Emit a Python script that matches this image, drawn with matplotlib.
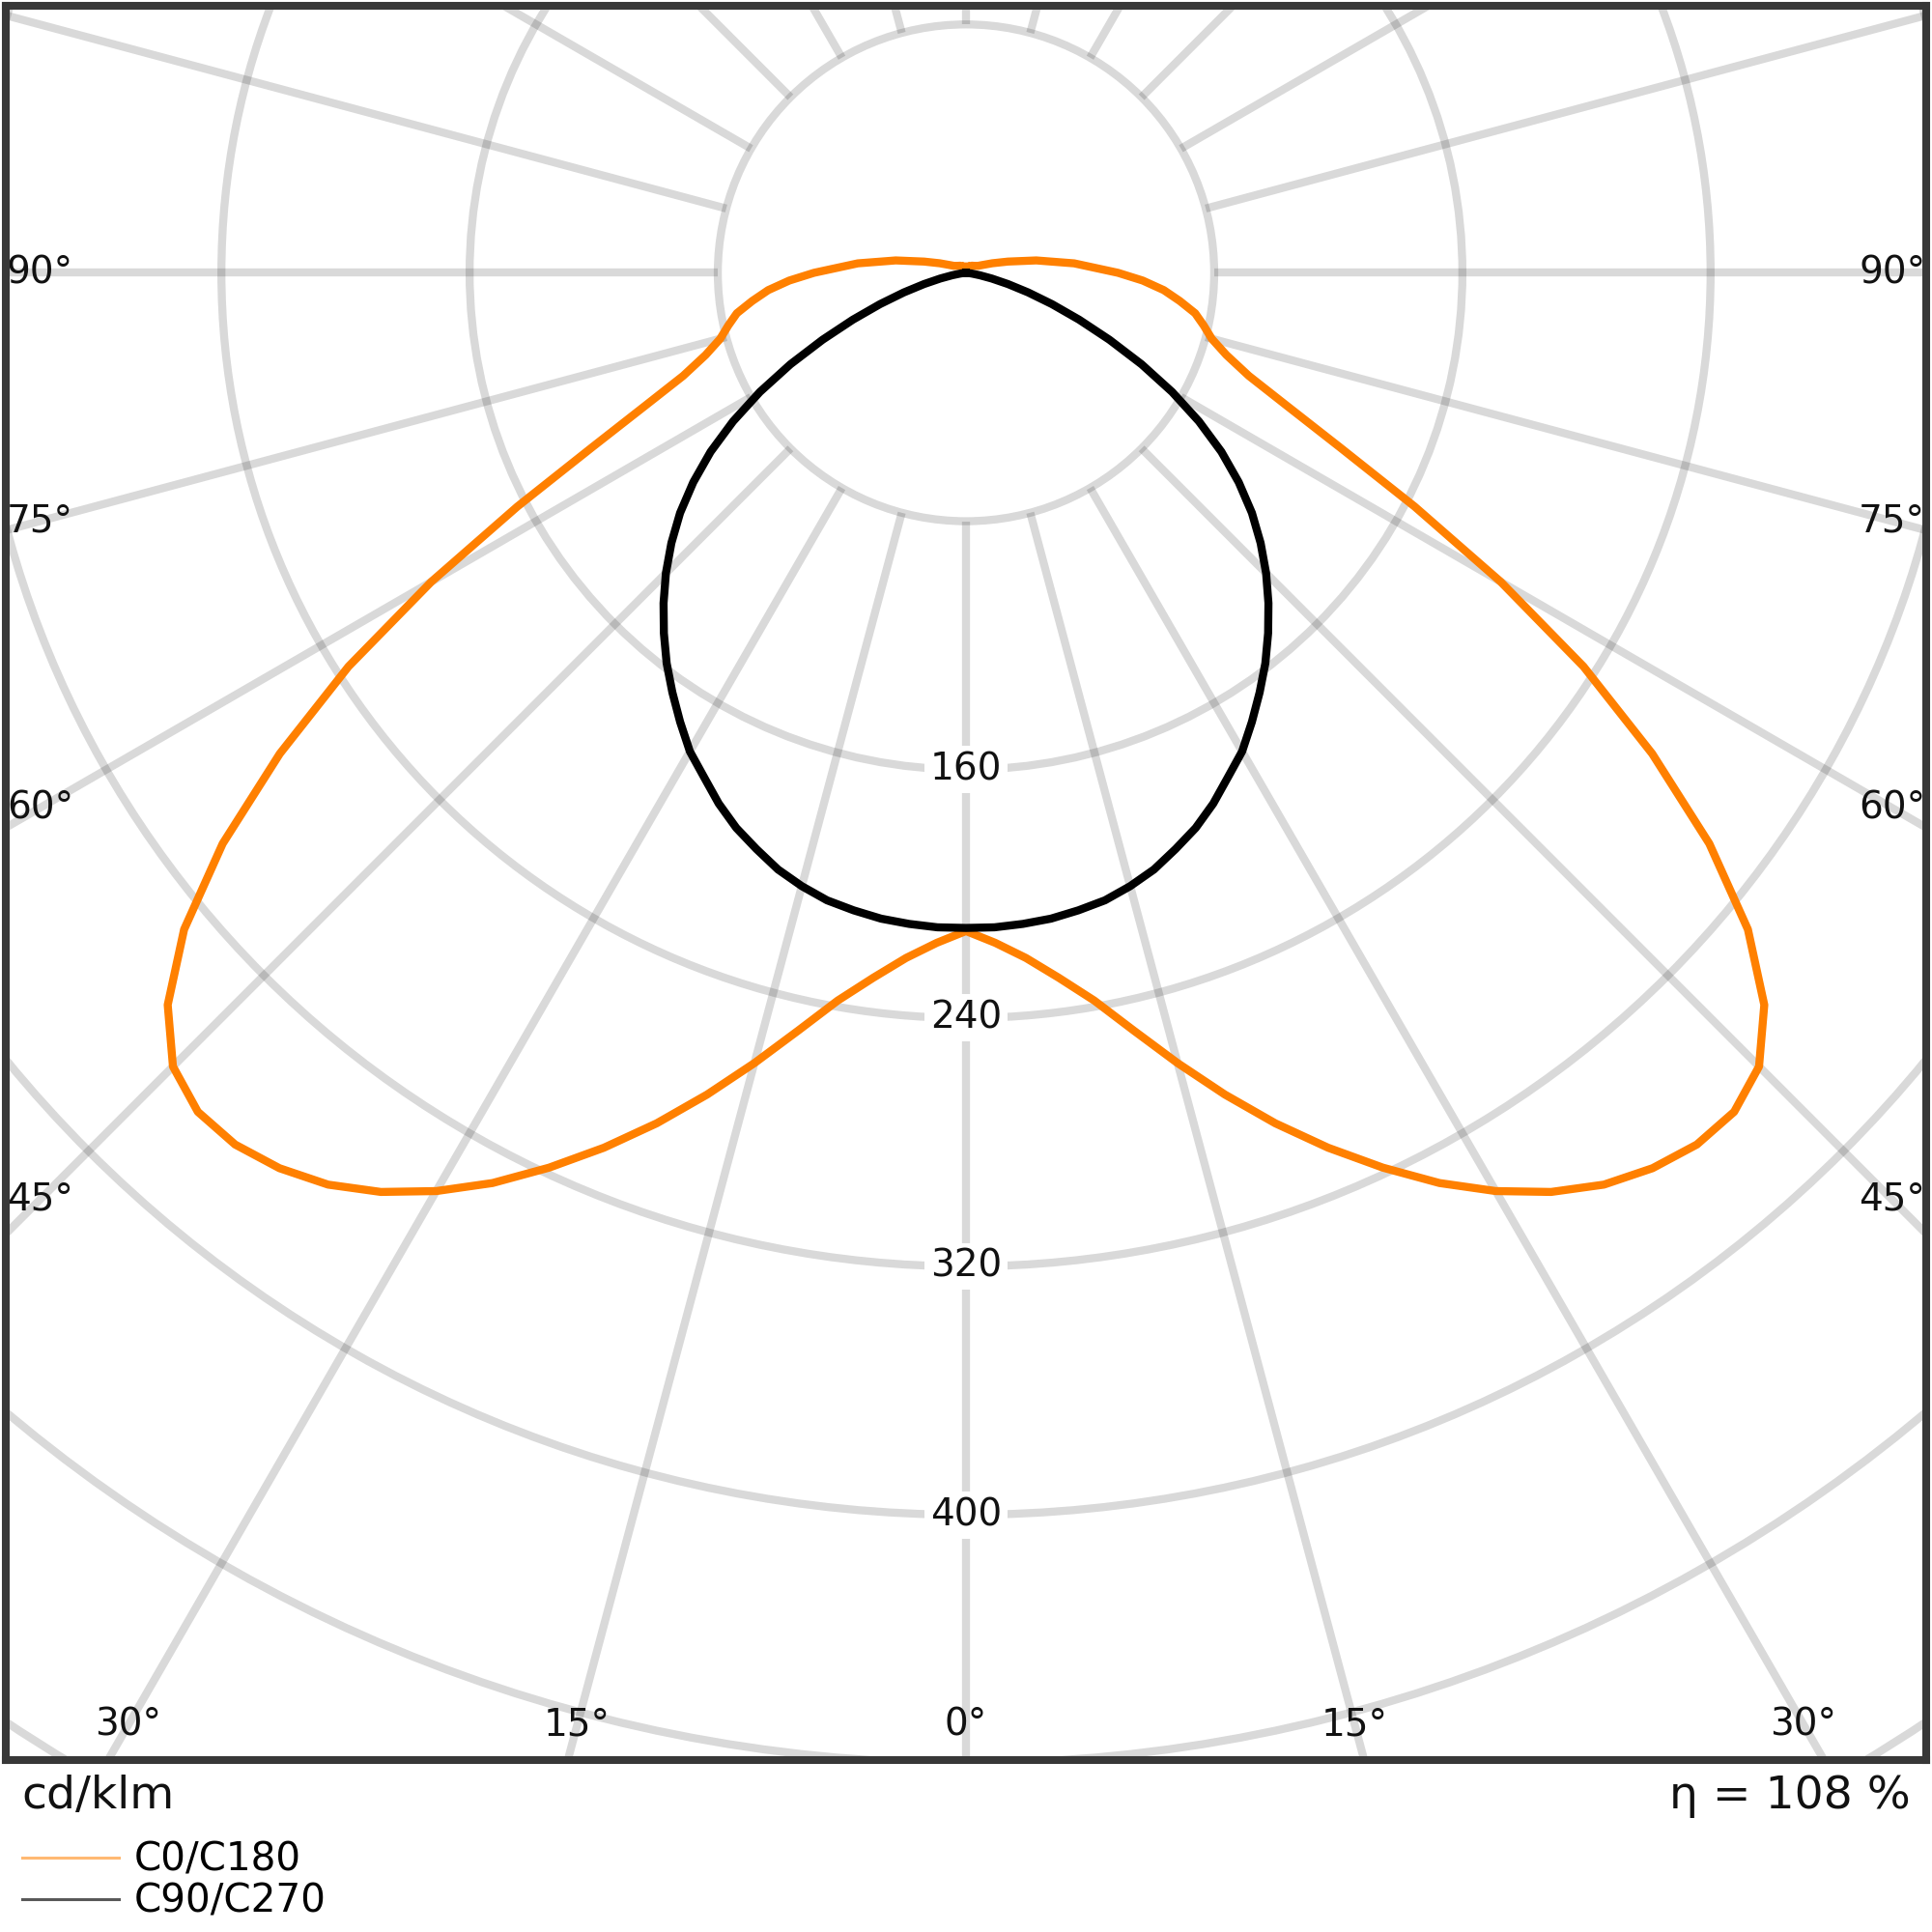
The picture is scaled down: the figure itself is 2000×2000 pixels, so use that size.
import numpy as np
import matplotlib
matplotlib.use("Agg")
import matplotlib.pyplot as plt
from matplotlib.patches import Circle
from matplotlib.lines import Line2D

# ---------------- data (cd/klm) ----------------
gamma_c0 = [0, 2.5, 5, 7.5, 10, 12.5, 15, 17.5, 20, 22.5, 25, 27.5, 30, 32.5, 35,
            37.5, 40, 42.5, 45, 47.5, 50, 52.5, 55, 57.5, 60, 62.5, 65, 67.5, 70,
            72.5, 75, 77.5, 80, 82.5, 85, 87.5, 90, 95, 100, 105, 110, 115, 120,
            130, 140, 150, 160, 170, 180]
c0_c180 = [212, 216, 221.5, 229, 238, 250, 263.5, 277.5, 291.5, 305, 318, 330.5, 341.5, 351, 358.5,
           363.5, 366.5, 366.5, 361.5, 349, 329, 302, 270, 236, 199, 163, 133, 112, 97,
           88, 82, 78.5, 75, 69.5, 64, 57, 49, 35, 23, 14, 9, 6, 4.5,
           3.5, 3, 2.5, 2, 2, 2]

gamma_c90 = [0, 2.5, 5, 7.5, 10, 12.5, 15, 17.5, 20, 22.5, 25, 27.5, 30, 32.5, 35,
             37.5, 40, 42.5, 45, 47.5, 50, 52.5, 55, 57.5, 60, 62.5, 65, 67.5, 70,
             72.5, 75, 77.5, 80, 82.5, 85, 87.5, 90]
c90_c270 = [211, 211, 210.5, 209.8, 208.5, 207, 204.5, 201.5, 197.5, 193.5, 188.6, 183, 178, 171.5, 165,
            158.5, 151.5, 144.3, 136.8, 128.8, 120.3, 110.8, 100.5, 89, 76.7, 63.8, 51, 39.5, 29.5,
            21, 14, 8.5, 4.5, 2, 0.8, 0.2, 0]

ring_values = [80, 160, 240, 320, 400, 480, 560, 640, 720, 800]
ring_labels = [160, 240, 320, 400]
spoke_angles = list(range(0, 360, 15))
angle_label_values = [-90, -75, -60, -45, -30, -15, 0, 15, 30, 45, 60, 75, 90]
series_names = ["C0/C180", "C90/C270"]
series_colors = ["#ff8000", "#000000"]
unit_text = "cd/klm"
eta_text = "η = 108 %"

# ---------------- figure ----------------
plt.rcParams["font.family"] = ["DejaVu Sans"]
fig = plt.figure(figsize=(10, 10), dpi=200)
ax = fig.add_axes([0.003, 0.089, 0.994, 0.908])
XLIM = 309.5
YTOP, YBOT = 86, -479
ax.set_xlim(-XLIM, XLIM)
ax.set_ylim(YBOT, YTOP)
ax.set_xticks([])
ax.set_yticks([])
for sp in ax.spines.values():
    sp.set_color("#383838")
    sp.set_linewidth(2.9)
    sp.set_zorder(10)

GRID_ALPHA = 0.15
for r in ring_values:
    ax.add_patch(Circle((0, 0), r, fill=False, ec="black", alpha=GRID_ALPHA, lw=3.0, zorder=1))
for a in spoke_angles:
    t = np.radians(a)
    ax.plot([80 * np.sin(t), 2000 * np.sin(t)], [-80 * np.cos(t), -2000 * np.cos(t)],
            color="black", alpha=GRID_ALPHA, lw=3.0, zorder=1, solid_capstyle="butt")

# ring labels
for r in ring_labels:
    ax.text(0, -r, str(r), ha="center", va="center", fontsize=14, color="#111111", zorder=2,
            bbox=dict(fc="white", ec="none", pad=2.0))

# angle labels, placed on each spoke where it meets an inset frame
inset_x = XLIM - 11
inset_y = -(abs(YBOT) - 11.4)
for a in angle_label_values:
    t = np.radians(a)
    s, c = np.sin(t), np.cos(t)
    cands = []
    if abs(s) > 1e-9:
        cands.append(inset_x / abs(s))
    if c > 1e-9:
        cands.append(abs(inset_y) / c)
    d = min(cands)
    ax.text(d * s, -d * c, f"{abs(a)}°", ha="center", va="center", fontsize=14,
            color="#111111", zorder=2)


def closed_curve(gammas, values):
    g = np.radians(np.asarray(gammas, float))
    v = np.asarray(values, float)
    xl, yl = -v[::-1] * np.sin(g[::-1]), -v[::-1] * np.cos(g[::-1])
    xr, yr = v[1:] * np.sin(g[1:]), -v[1:] * np.cos(g[1:])
    return np.concatenate([xl, xr]), np.concatenate([yl, yr])


x0, y0 = closed_curve(gamma_c0, c0_c180)
ax.plot(x0, y0, color=series_colors[0], lw=3.0, zorder=3, solid_joinstyle="round")
x9, y9 = closed_curve(gamma_c90, c90_c270)
ax.plot(x9, y9, color=series_colors[1], lw=3.0, zorder=4, solid_joinstyle="round")

# texts under the plot
fig.text(0.011, 0.064, unit_text, ha="left", va="baseline", fontsize=17, color="#111111")
fig.text(0.989, 0.064, eta_text, ha="right", va="baseline", fontsize=17, color="#111111")

handles = [Line2D([], [], color=series_colors[0], lw=1.1, alpha=0.55),
           Line2D([], [], color=series_colors[1], lw=1.1, alpha=0.65)]
fig.legend(handles, series_names, loc="upper left", bbox_to_anchor=(0.0117, 0.047),
           frameon=False, fontsize=14.6, handlelength=2.45, handletextpad=0.40,
           labelspacing=0.07, borderpad=0, borderaxespad=0)

fig.savefig("out.png", dpi=200, facecolor="white")
